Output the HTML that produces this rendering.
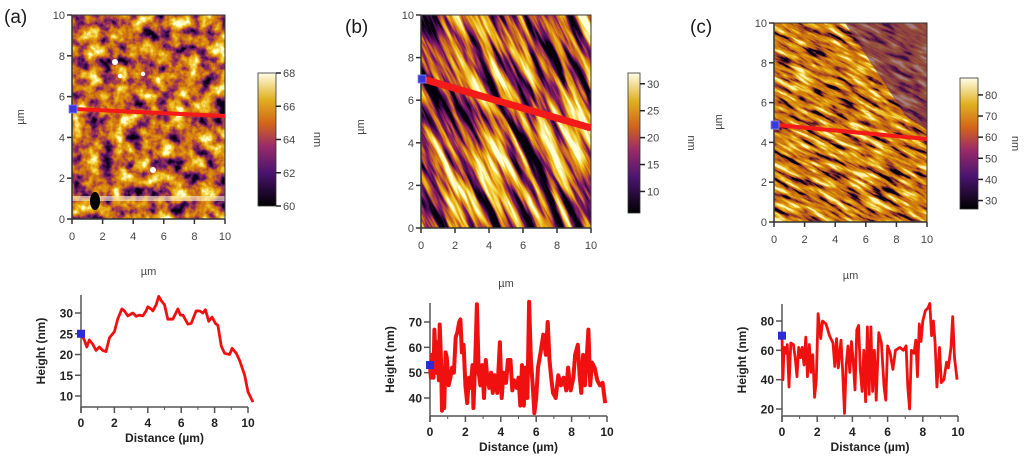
<!DOCTYPE html>
<html><head><meta charset="utf-8">
<style>
html,body{margin:0;padding:0;background:#fff;}
svg{display:block;font-family:"Liberation Sans",Arial,sans-serif;}
.tk{fill:#444;font-size:11px;}
.pt{fill:#222;font-size:12px;font-weight:bold;}
.lab{fill:#1a1a1a;font-size:19px;}
filter{color-interpolation-filters:sRGB;}
</style></head>
<body>
<svg id="root" width="1024" height="461" viewBox="0 0 1024 461">
<defs>
<linearGradient id="cmap" x1="0" y1="1" x2="0" y2="0">
<stop offset="0" stop-color="#000000"/><stop offset="0.25" stop-color="#4a1470"/>
<stop offset="0.45" stop-color="#9a2a6a"/><stop offset="0.62" stop-color="#d2641a"/>
<stop offset="0.8" stop-color="#e0b020"/><stop offset="1" stop-color="#fffde8"/>
</linearGradient>
<filter id="fa" x="0" y="0" width="1" height="1" color-interpolation-filters="sRGB">
<feTurbulence type="fractalNoise" baseFrequency="0.07" numOctaves="4" seed="3"/>
<feColorMatrix type="matrix" values="1.8 0 0 0 -0.4  1.8 0 0 0 -0.4  1.8 0 0 0 -0.4  0 0 0 0 1"/>
<feComponentTransfer>
<feFuncR type="table" tableValues="0.05 0.35 0.62 0.8 0.88 0.95 1"/>
<feFuncG type="table" tableValues="0 0.08 0.2 0.43 0.6 0.8 1"/>
<feFuncB type="table" tableValues="0.1 0.4 0.35 0.08 0.05 0.2 0.8"/>
</feComponentTransfer></filter>
<filter id="fb" x="-0.1" y="-0.1" width="1.2" height="1.2" color-interpolation-filters="sRGB">
<feTurbulence type="fractalNoise" baseFrequency="0.012 0.1" numOctaves="4" seed="7"/>
<feColorMatrix type="matrix" values="2.6 0 0 0 -0.85  2.6 0 0 0 -0.85  2.6 0 0 0 -0.85  0 0 0 0 1"/>
<feComponentTransfer>
<feFuncR type="table" tableValues="0.02 0.3 0.55 0.8 0.9 0.96 1"/>
<feFuncG type="table" tableValues="0 0.05 0.12 0.4 0.65 0.85 1"/>
<feFuncB type="table" tableValues="0.05 0.35 0.4 0.12 0.05 0.3 0.85"/>
</feComponentTransfer></filter>
<filter id="fc" x="-0.1" y="-0.1" width="1.2" height="1.2" color-interpolation-filters="sRGB">
<feTurbulence type="fractalNoise" baseFrequency="0.04 0.2" numOctaves="4" seed="11"/>
<feColorMatrix type="matrix" values="2.2 0 0 0 -0.6  2.2 0 0 0 -0.6  2.2 0 0 0 -0.6  0 0 0 0 1"/>
<feComponentTransfer>
<feFuncR type="table" tableValues="0.03 0.5 0.75 0.82 0.87 0.93 1"/>
<feFuncG type="table" tableValues="0 0.15 0.38 0.48 0.6 0.76 0.95"/>
<feFuncB type="table" tableValues="0.08 0.2 0.1 0.05 0.05 0.15 0.7"/>
</feComponentTransfer></filter>
<clipPath id="ca"><rect x="72" y="15" width="153" height="204"/></clipPath>
<clipPath id="cb"><rect x="421" y="15" width="170" height="213"/></clipPath>
<clipPath id="cc"><rect x="774" y="23" width="153" height="199"/></clipPath>
</defs>

<text class="lab" x="4" y="23">(a)</text>
<text class="lab" x="345" y="33">(b)</text>
<text class="lab" x="690" y="33">(c)</text>

<g clip-path="url(#ca)">
<rect x="72" y="15" width="153" height="204" filter="url(#fa)"/>
<rect x="72" y="196" width="153" height="5" fill="#fff6d0" opacity="0.6"/>
<ellipse cx="95" cy="201" rx="5" ry="9" fill="#000"/>
<circle cx="115" cy="62" r="3" fill="#fff"/><circle cx="153" cy="170" r="3" fill="#fff"/>
<circle cx="143" cy="74" r="2.2" fill="#fff"/><circle cx="120" cy="76" r="2.2" fill="#fff"/>
</g>
<g clip-path="url(#cb)">
<g transform="translate(506,121) rotate(64)"><rect x="-200" y="-200" width="400" height="400" filter="url(#fb)"/></g>
</g>
<g clip-path="url(#cc)">
<g transform="translate(850,122) rotate(28)"><rect x="-180" y="-180" width="360" height="360" filter="url(#fc)"/></g>
<path d="M845 23 L927 23 L927 130 L905 115 Z" fill="#5a1a66" opacity="0.55"/>
</g>

<g id="frames"></g>
<g id="profiles"></g>
</svg>
<script>
// ---------- profile data ----------
const distA = [0,0.2,0.35,0.5,0.7,0.9,1.1,1.3,1.5,1.7,1.9,2.0,2.2,2.45,2.6,2.8,3.1,3.3,3.5,3.7,3.9,4.0,4.2,4.3,4.5,4.65,4.8,5.0,5.2,5.5,5.8,5.95,6.1,6.4,6.6,6.9,7.1,7.3,7.45,7.65,7.85,8.05,8.2,8.4,8.6,8.9,9.05,9.3,9.5,9.8,10.0,10.3];
const heightA = [25,23.5,21.8,23.5,22.5,21,21.8,21,20.7,24,25,25.5,28.5,31,30.5,29.3,30,29.2,29.5,29.3,30.5,31.5,31,30.5,32,34,33,32,28.5,28.5,31,29.5,29.5,27.3,27.5,30.5,30.5,30,30.8,28,29,27.5,27,22,20.3,20,21.5,20.3,18.5,15,11,8.5];
const distB = [0,0.05,0.1,0.2,0.25,0.35,0.4,0.5,0.55,0.62,0.68,0.75,0.8,0.88,0.95,1.05,1.15,1.25,1.35,1.45,1.55,1.65,1.72,1.8,1.9,2.0,2.1,2.2,2.3,2.4,2.45,2.55,2.65,2.75,2.85,2.95,3.05,3.15,3.25,3.35,3.45,3.55,3.65,3.8,3.95,4.05,4.15,4.3,4.4,4.55,4.65,4.75,4.9,5.0,5.1,5.2,5.3,5.4,5.5,5.6,5.7,5.8,5.9,6.0,6.1,6.25,6.4,6.55,6.65,6.75,6.85,6.95,7.1,7.25,7.4,7.55,7.7,7.8,7.95,8.1,8.2,8.35,8.45,8.55,8.65,8.75,8.85,8.95,9.05,9.15,9.3,9.45,9.6,9.75,9.9];
const heightB = [53,48,57,48,67,50,62,47,69,55,35,52,36,58,56,45,48,52,50,64,66,70,71,58,61,45,38,48,44,53,36,53,77,50,45,53,40,55,47,44,50,42,49,42,62,40,50,46,55,55,43,47,44,48,37,53,37,52,40,78,55,45,34,40,52,58,65,57,70,55,48,42,40,49,45,48,43,52,43,48,57,61,49,42,57,45,55,67,45,54,52,47,45,46,38];
const distC = [0,0.05,0.12,0.2,0.3,0.4,0.5,0.65,0.75,0.85,0.95,1.05,1.15,1.25,1.35,1.45,1.55,1.65,1.75,1.85,1.95,2.05,2.2,2.3,2.5,2.7,2.9,3.0,3.1,3.2,3.35,3.45,3.55,3.65,3.75,3.85,3.95,4.05,4.15,4.25,4.35,4.45,4.55,4.65,4.75,4.85,4.95,5.05,5.15,5.25,5.35,5.5,5.65,5.8,5.9,6.0,6.15,6.3,6.45,6.7,6.9,7.05,7.15,7.25,7.35,7.5,7.6,7.7,7.8,7.9,8.0,8.15,8.3,8.4,8.5,8.6,8.7,8.8,8.95,9.05,9.2,9.35,9.45,9.6,9.7,9.8,9.95];
const heightC = [70,40,62,58,64,35,65,64,55,42,62,55,62,50,69,42,64,45,57,28,40,85,68,80,78,70,65,49,68,48,67,45,17,50,63,45,66,52,33,74,77,47,32,60,25,76,30,76,32,60,26,72,65,35,26,63,58,47,60,62,60,63,35,20,60,58,67,42,78,66,80,87,89,92,70,80,65,35,62,38,40,52,48,62,83,55,40];
const xTicks = [0,2,4,6,8,10];
const yTicksA = [10,15,20,25,30];
const yTicksB = [40,50,60,70];
const yTicksC = [20,40,60,80];
const imgTicks = [0,2,4,6,8,10];
const cbTicksA = [60,62,64,66,68];
const cbTicksB = [10,15,20,25,30];
const cbTicksC = [30,40,50,60,70,80];

const NS = 'http://www.w3.org/2000/svg';
function mk(parent, tag, attrs, text){
  const e = document.createElementNS(NS, tag);
  for (const k in attrs) e.setAttribute(k, attrs[k]);
  if (text !== undefined) e.textContent = text;
  parent.appendChild(e); return e;
}
const frames = document.getElementById('frames');
const profs = document.getElementById('profiles');

function imageFrame(id, L, T, R, B, line, cb, cbTicks, cbMin, cbMax, yLab, xLabY, nmX){
  const g = mk(frames, 'g', {});
  
  
  mk(g, 'path', {d:`M${L} ${T} V${B} H${R}`, stroke:'#333', 'stroke-width':1.5, fill:'none'});
  mk(g, 'path', {d:`M${L} ${T} H${R} V${B}`, stroke:'#333', 'stroke-width':1, fill:'none'});
  imgTicks.forEach(v => {
    const x = L + (R - L) * v / 10, y = B - (B - T) * v / 10;
    mk(g, 'line', {x1:x, y1:B, x2:x, y2:B + 5, stroke:'#333', 'stroke-width':1.5});
    const tx = mk(g, 'text', {x:x, y:B + 21, 'text-anchor':'middle', class:'tk'}, String(v));
    
    
    mk(g, 'line', {x1:L - 5, y1:y, x2:L, y2:y, stroke:'#333', 'stroke-width':1.5});
    const ty = mk(g, 'text', {x:L - 7, y:y + 4, 'text-anchor':'end', class:'tk'}, String(v));
    
    
  });
  const xt = mk(g, 'text', {x:(L + R) / 2, y:xLabY, 'text-anchor':'middle', class:'tk'}, 'µm');
  
  
  const yt = mk(g, 'text', {x:0, y:0, 'text-anchor':'middle', class:'tk', transform:`translate(${yLab[0]},${yLab[1]}) rotate(-90)`}, 'µm');
  
  
  const sl = mk(g, 'line', {x1:L + 2, y1:line[0], x2:R, y2:line[1], stroke:'#f41a1a', 'stroke-width':line[2]});
  
  
  const mkq = mk(g, 'rect', {x:L - 3, y:line[0] - 4, width:8, height:8, fill:'#3a3ad8', stroke:'#8888ff', 'stroke-width':0.8});
  
  
  const [cx, cy, cw, ch] = cb;
  const cbr = mk(g, 'rect', {x:cx, y:cy, width:cw, height:ch, fill:'url(#cmap)', stroke:'#333', 'stroke-width':0.8});
  
  
  cbTicks.forEach(v => {
    const y = cy + ch - ch * (v - cbMin) / (cbMax - cbMin);
    mk(g, 'line', {x1:cx + cw, y1:y, x2:cx + cw + 5, y2:y, stroke:'#222', 'stroke-width':1.5});
    const t = mk(g, 'text', {x:cx + cw + 7, y:y + 4, class:'tk'}, String(v));
    
    
  });
  const nm = mk(g, 'text', {x:0, y:0, 'text-anchor':'middle', class:'tk', transform:`translate(${nmX},${cy + ch / 2}) rotate(90)`}, 'nm');
  
  
}
imageFrame('a', 72, 15, 225, 219, [109, 116, 4], [258, 73, 18, 133], cbTicksA, 60, 68, [24, 117], 275, 314);
imageFrame('b', 421, 15, 591, 228, [79, 128, 7], [628, 73, 12, 140], cbTicksB, 6, 32, [364, 127], 287, 688);
imageFrame('c', 774, 23, 927, 222, [125, 139, 4], [960, 78, 18, 131], cbTicksC, 26, 88, [722, 122], 279, 1012);

function profile(id, x0, x10, yAxis, top, ticks, yv1, py1, yv2, py2, dist, hts, lw){
  const g = mk(profs, 'g', {});
  
  
  const sx = d => x0 + (x10 - x0) * d / 10;
  const sy = v => py1 + (py2 - py1) * (v - yv1) / (yv2 - yv1);
  mk(g, 'line', {x1:x0, y1:top, x2:x0, y2:yAxis + 6, stroke:'#555', 'stroke-width':1.5});
  mk(g, 'line', {x1:x0, y1:yAxis, x2:x10, y2:yAxis, stroke:'#555', 'stroke-width':1.5});
  xTicks.forEach(v => {
    const x = sx(v);
    mk(g, 'line', {x1:x, y1:yAxis, x2:x, y2:yAxis + 6, stroke:'#555', 'stroke-width':1.5});
    const t = mk(g, 'text', {x:x, y:yAxis + 20, 'text-anchor':'middle', class:'pt'}, String(v));
    
    
  });
  for (let v = 1; v < 10; v += 2) mk(g, 'line', {x1:sx(v), y1:yAxis, x2:sx(v), y2:yAxis + 3, stroke:'#555'});
  ticks.forEach(v => {
    const y = sy(v);
    mk(g, 'line', {x1:x0 - 6, y1:y, x2:x0, y2:y, stroke:'#555', 'stroke-width':1.5});
    const t = mk(g, 'text', {x:x0 - 8, y:y + 4.5, 'text-anchor':'end', class:'pt'}, String(v));
    
    
  });
  const xt = mk(g, 'text', {x:(x0 + x10) / 2, y:yAxis + 35, 'text-anchor':'middle', class:'pt'}, 'Distance (µm)');
  
  
  const yt = mk(g, 'text', {x:0, y:0, 'text-anchor':'middle', class:'pt', transform:`translate(${x0 - 36},${(top + yAxis) / 2}) rotate(-90)`}, 'Height (nm)');
  
  
  const d = dist.map((v, i) => (i ? 'L' : 'M') + sx(v).toFixed(1) + ' ' + sy(hts[i]).toFixed(1)).join(' ');
  const p = mk(g, 'path', {d:d, fill:'none', stroke:'#f01010', 'stroke-width':lw, 'stroke-linejoin':'round'});
  
  
  const m = mk(g, 'rect', {x:sx(dist[0]) - 4, y:sy(hts[0]) - 4, width:8, height:8, fill:'#2b2bd8'});
  
  
}
profile('a', 81, 248, 407, 295, yTicksA, 30, 313, 10, 396, distA, heightA, 2.8);
profile('b', 430, 607, 416, 303, yTicksB, 70, 322, 40, 398, distB, heightB, 4);
profile('c', 782, 958, 416, 304, yTicksC, 80, 321, 20, 409, distC, heightC, 2.8);
</script>
</body></html>
